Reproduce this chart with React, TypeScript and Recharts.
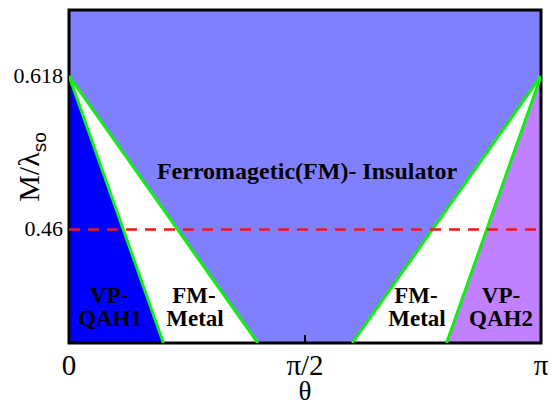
import React from "react";
import {
  ComposedChart,
  Area,
  Line,
  XAxis,
  YAxis,
  CartesianGrid,
  ReferenceLine,
  ReferenceArea,
} from "recharts";

// theta in units of pi
const THETA_TICKS = [0, 0.5, 1];
const THETA_LABELS: Record<string, string> = { "0": "0", "0.5": "π/2", "1": "π" };
const M_TICKS = [0.618, 0.46];
const M_DOMAIN: [number, number] = [0.343, 0.686];
const M_CUT = 0.46;

const vpQah1 = [
  { theta: 0, m: 0.618 },
  { theta: 0.2, m: 0.343 },
];
const fmMetalLeft = [
  { theta: 0, m: 0.618 },
  { theta: 0.4, m: 0.343 },
];
const fmMetalRight = [
  { theta: 0.6, m: 0.343 },
  { theta: 1, m: 0.618 },
];
const vpQah2 = [
  { theta: 0.8, m: 0.343 },
  { theta: 1, m: 0.618 },
];

const SERIF = "Liberation Serif, Times New Roman, serif";

const XTick = (props: any) => {
  const { x, y, payload } = props;
  const label = THETA_LABELS[String(payload.value)];
  const mid = payload.value > 0 && payload.value < 1;
  return (
    <g>
      {mid && <line x1={x} x2={x} y1={y} y2={y - 8} stroke="#000" strokeWidth={2} />}
      <text x={x} y={y + 32} textAnchor="middle" fontFamily={SERIF} fontSize={29} fill="#000">
        {label}
      </text>
    </g>
  );
};

const YTick = (props: any) => {
  const { x, y, payload } = props;
  return (
    <text x={x - 6} y={y + 7} textAnchor="end" fontFamily={SERIF} fontSize={22} fill="#000">
      {String(payload.value)}
    </text>
  );
};

const Overlay = () => (
  <svg
    width={551}
    height={406}
    style={{ position: "absolute", left: 0, top: 0, pointerEvents: "none" }}
  >
    <g fontFamily={SERIF} fontWeight="bold" fontSize={23} fill="#000" textAnchor="middle">
      <text x={307} y={179} fontSize={24}>Ferromagetic(FM)- Insulator</text>
      <text x={109} y={303}>VP-</text>
      <text x={110} y={326}>QAH1</text>
      <text x={194} y={303}>FM-</text>
      <text x={195} y={326}>Metal</text>
      <text x={416} y={303}>FM-</text>
      <text x={417} y={326}>Metal</text>
      <text x={501} y={303}>VP-</text>
      <text x={501} y={326}>QAH2</text>
    </g>
    <g fontFamily={SERIF} fontSize={30} fill="#000" textAnchor="middle">
      <text transform="translate(39,167) rotate(-90)" x={0} y={0}>
        M/λ
        <tspan fontFamily="Liberation Sans, Arial, sans-serif" fontSize={19} dy={7}>
          so
        </tspan>
      </text>
      <text x={305} y={400} fontSize={27}>
        θ
      </text>
    </g>
  </svg>
);

export default function App() {
  return (
    <div style={{ position: "absolute", left: 0, top: 0, width: 551, height: 406 }}>
      <ComposedChart
        width={551}
        height={406}
        margin={{ top: 10, right: 10, bottom: 0, left: 0 }}
      >
        <CartesianGrid horizontal={false} vertical={false} fill="#8080ff" fillOpacity={1} />
        <XAxis
          type="number"
          dataKey="theta"
          domain={[0, 1]}
          ticks={THETA_TICKS}
          allowDataOverflow
          height={63}
          tickSize={0}
          tickMargin={0}
          tickLine={false}
          axisLine={false}
          tick={<XTick />}
          interval={0}
        />
        <YAxis
          type="number"
          dataKey="m"
          domain={M_DOMAIN}
          ticks={M_TICKS}
          allowDataOverflow
          width={69}
          tickSize={0}
          tickMargin={0}
          tickLine={false}
          axisLine={false}
          tick={<YTick />}
          interval={0}
        />
        <Area
          data={fmMetalLeft}
          dataKey="m"
          type="linear"
          baseValue="dataMin"
          fill="#ffffff"
          fillOpacity={1}
          stroke="none"
          isAnimationActive={false}
        />
        <Area
          data={vpQah1}
          dataKey="m"
          type="linear"
          baseValue="dataMin"
          fill="#0000ff"
          fillOpacity={1}
          stroke="none"
          isAnimationActive={false}
        />
        <Area
          data={fmMetalRight}
          dataKey="m"
          type="linear"
          baseValue="dataMin"
          fill="#ffffff"
          fillOpacity={1}
          stroke="none"
          isAnimationActive={false}
        />
        <Area
          data={vpQah2}
          dataKey="m"
          type="linear"
          baseValue="dataMin"
          fill="#c080ff"
          fillOpacity={1}
          stroke="none"
          isAnimationActive={false}
        />
        {[vpQah1, fmMetalLeft, fmMetalRight, vpQah2].map((d, i) => (
          <Line
            key={i}
            data={d}
            dataKey="m"
            type="linear"
            stroke="#11ee11"
            strokeWidth={3}
            dot={false}
            isAnimationActive={false}
          />
        ))}
        <ReferenceLine
          y={M_CUT}
          stroke="#ff1010"
          strokeWidth={2.5}
          strokeDasharray="11 8"
        />
        <ReferenceArea
          x1={0}
          x2={1}
          y1={M_DOMAIN[0]}
          y2={M_DOMAIN[1]}
          fill="none"
          stroke="#000"
          strokeWidth={3}
          ifOverflow="visible"
        />
      </ComposedChart>
      <Overlay />
    </div>
  );
}
